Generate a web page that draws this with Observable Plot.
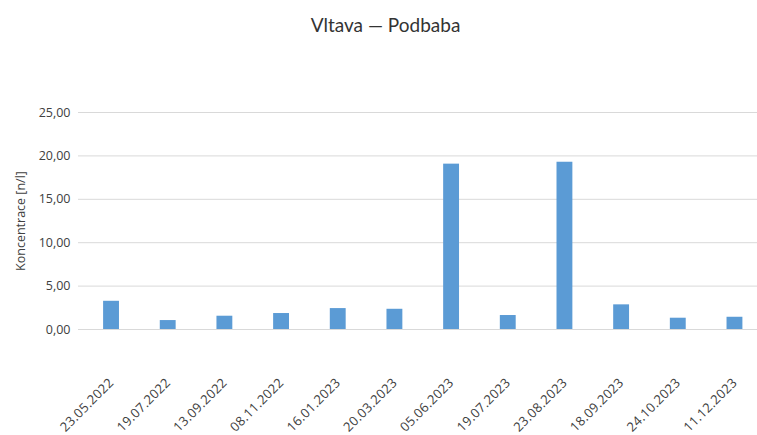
<!DOCTYPE html>
<html>
<head>
<meta charset="utf-8">
<script src="https://cdn.jsdelivr.net/npm/d3@7"></script>
<script src="https://cdn.jsdelivr.net/npm/@observablehq/plot@0.6"></script>
<style>
  html, body { margin: 0; padding: 0; background: #fff; }
  #wrap { position: relative; width: 757px; height: 435px; overflow: hidden; }
  #title { position: absolute; top: 13px; left: 0; width: 757px; padding-left: 14px; box-sizing: border-box;
           text-align: center; font-family: Lato, "Open Sans", sans-serif; font-size: 19px; color: #333; }
  #chart { position: absolute; top: 60px; left: 0; }
  g[aria-label="x-axis tick label"] text { letter-spacing: 0.3px; }
</style>
</head>
<body>
<div id="wrap">
  <div id="title">Vltava — Podbaba</div>
  <div id="chart"></div>
</div>
<script>
const dates = ["23.05.2022","19.07.2022","13.09.2022","08.11.2022","16.01.2023","20.03.2023",
               "05.06.2023","19.07.2023","23.08.2023","18.09.2023","24.10.2023","11.12.2023"];
const values = [3.25, 1.03, 1.53, 1.84, 2.41, 2.33, 19.05, 1.61, 19.27, 2.84, 1.30, 1.41];
const yTicks = [0, 5, 10, 15, 20, 25];

const data = dates.map((d, i) => ({date: d, value: values[i]}));
const fmt = v => d3.format(".2f")(v).replace(".", ",");

const chart = Plot.plot({
  width: 757,
  height: 375,
  marginLeft: 78,
  marginRight: 0,
  marginTop: 52,
  marginBottom: 106,
  style: {fontFamily: "'Open Sans', sans-serif", fontSize: "12px", color: "#404040", background: "#fff"},
  x: {domain: dates, range: [82.7, 762.8], paddingInner: 0.72, paddingOuter: 0.36, round: false, label: null},
  y: {domain: [0, 25], ticks: yTicks, label: null},
  marks: [
    Plot.gridY(yTicks, {stroke: "#d9d9d9", strokeOpacity: 1}),
    Plot.axisY(yTicks, {tickSize: 0, tickPadding: 8, tickFormat: fmt, fontSize: 12.5,
                        label: "Koncentrace [n/l]", labelAnchor: "center", labelOffset: 62, labelArrow: "none"}),
    Plot.axisX({tickSize: 0, tickPadding: 51, tickRotate: -45, fontSize: 13, label: null}),
    Plot.barY(data, {x: "date", y: "value", fill: "#5b9bd5"})
  ]
});
document.getElementById("chart").appendChild(chart);
</script>
</body>
</html>
